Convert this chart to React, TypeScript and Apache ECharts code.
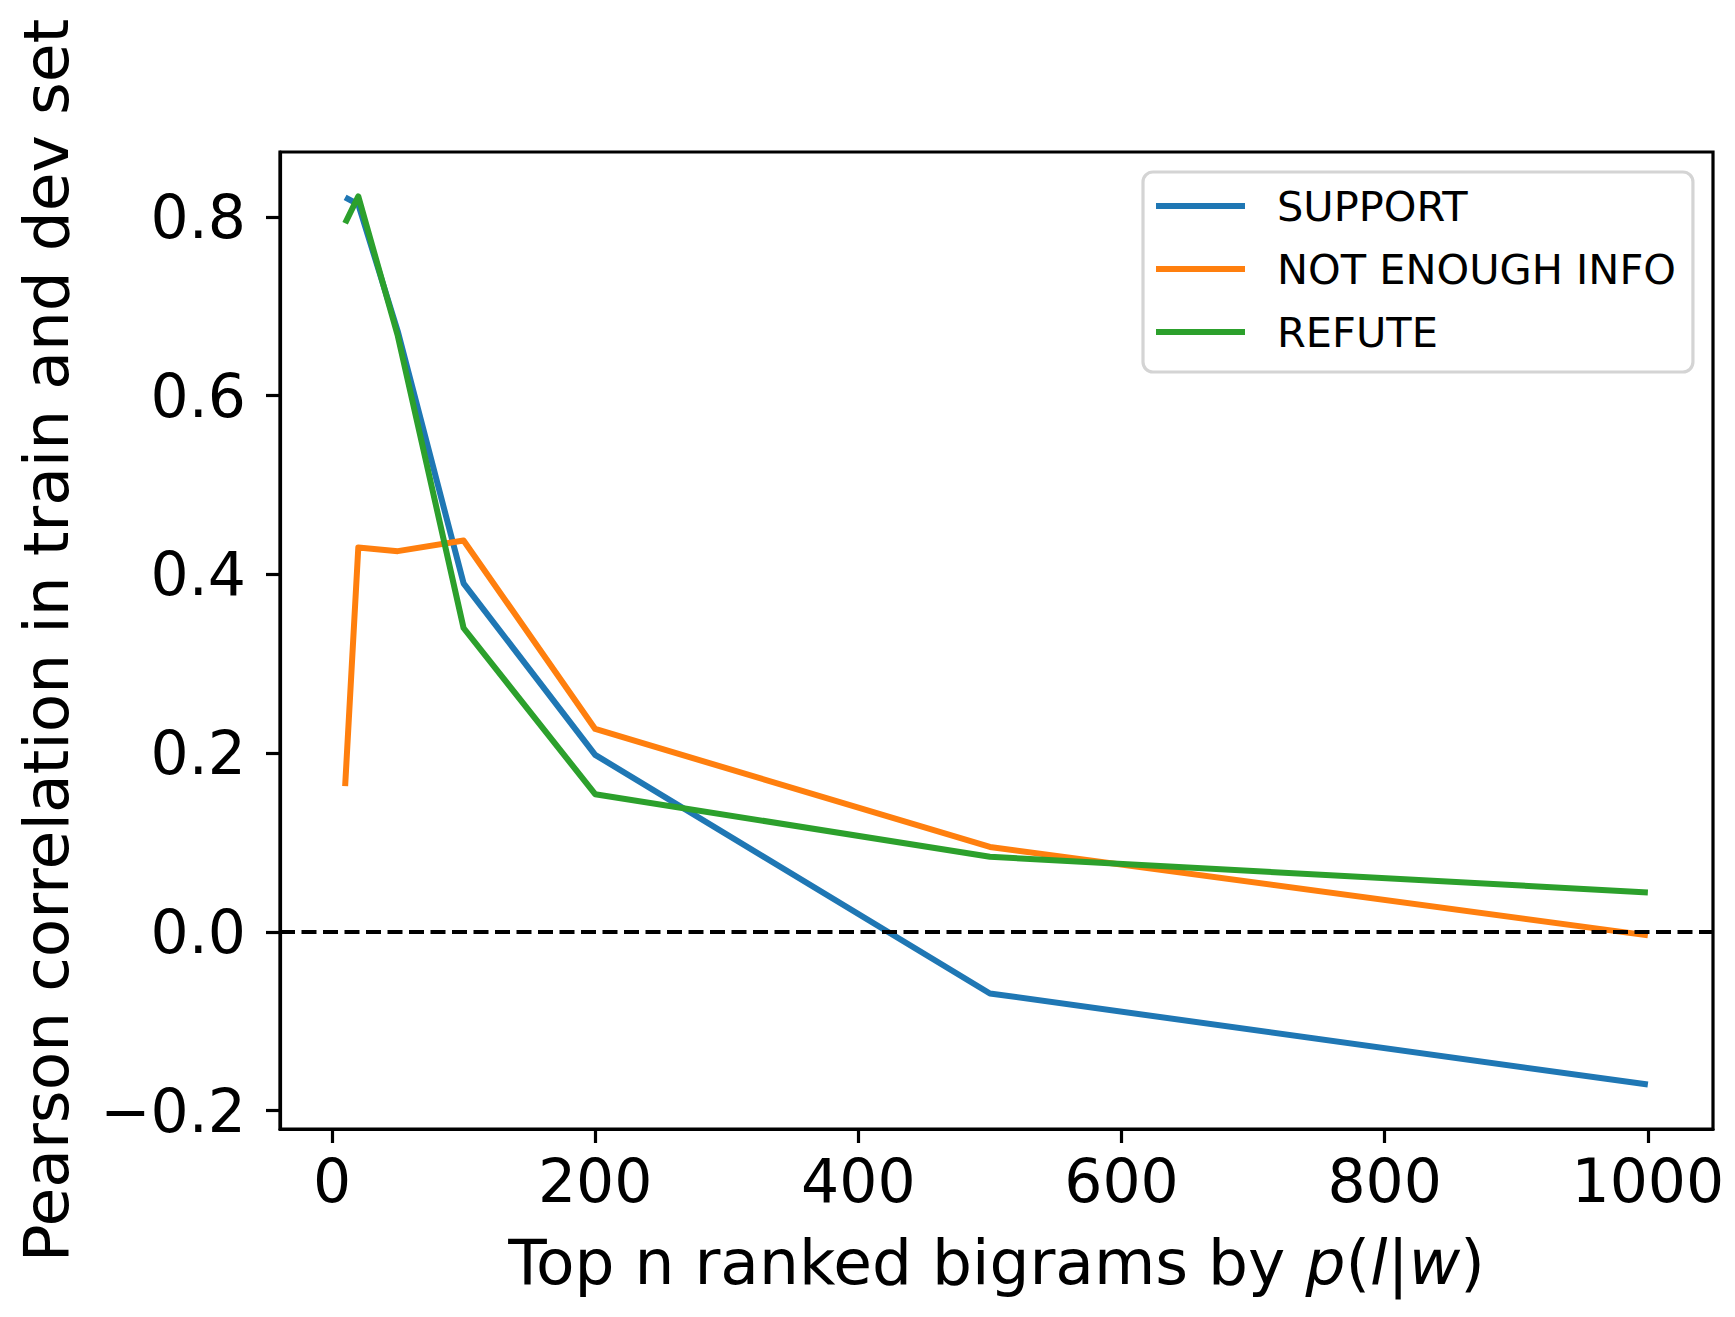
import React, { useEffect, useRef } from "react";
import * as echarts from "echarts";

const X_VALUES = [10, 20, 50, 100, 200, 500, 1000];
const SUPPORT = [0.822, 0.814, 0.672, 0.39, 0.198, -0.069, -0.171];
const NOT_ENOUGH_INFO = [0.163, 0.43, 0.426, 0.438, 0.227, 0.095, -0.004];
const REFUTE = [0.793, 0.823, 0.667, 0.34, 0.154, 0.084, 0.044];
const SERIES_NAMES = ["SUPPORT", "NOT ENOUGH INFO", "REFUTE"];
const X_TICKS = [0, 200, 400, 600, 800, 1000];
const Y_TICKS = [-0.2, 0, 0.2, 0.4, 0.6, 0.8];

const COLORS = ["#1f77b4", "#ff7f0e", "#2ca02c"];
const FONT = "DejaVu Sans";

export default function App() {
  const ref = useRef<HTMLDivElement>(null);
  useEffect(() => {
    if (!ref.current) return;
    const chart = echarts.init(ref.current, undefined, { renderer: "svg" });
    const allY = [...SUPPORT, ...NOT_ENOUGH_INFO, ...REFUTE];
    const yLo = Math.min(...allY);
    const yHi = Math.max(...allY);
    const yPad = (yHi - yLo) * 0.05;
    const xLo = Math.min(...X_VALUES);
    const xHi = Math.max(...X_VALUES);
    const xPad = (xHi - xLo) * 0.05;
    const seriesData = [SUPPORT, NOT_ENOUGH_INFO, REFUTE];
    const series: any[] = seriesData.map((vals, i) => ({
      name: SERIES_NAMES[i],
      type: "line",
      data: X_VALUES.map((x, j) => [x, vals[j]]),
      symbol: "none",
      lineStyle: { color: COLORS[i], width: 6, cap: "butt", join: "round" },
      itemStyle: { color: COLORS[i] },
      z: 2 + i,
    }));
    series.push({
      name: "zero",
      type: "line",
      data: [],
      z: 10,
      markLine: {
        silent: true,
        symbol: "none",
        label: { show: false },
        lineStyle: { color: "#000", width: 4, type: [15, 6.5] },
        data: [{ yAxis: 0 }],
        animation: false,
      },
    });
    chart.setOption({
      animation: false,
      backgroundColor: "#fff",
      grid: {
        left: 280,
        right: 22,
        top: 152,
        bottom: 188,
        show: true,
        borderColor: "#000",
        borderWidth: 3.2,
        backgroundColor: "transparent",
      },
      legend: {
        data: SERIES_NAMES,
        orient: "vertical",
        left: 1143,
        top: 172,
        padding: [9, 17, 15, 13],
        itemWidth: 89,
        itemHeight: 6,
        itemGap: 13,
        icon: "rect",
        backgroundColor: "rgba(255,255,255,0.8)",
        borderColor: "#d4d4d4",
        borderWidth: 3.2,
        borderRadius: 10,
        textStyle: {
          fontFamily: FONT,
          fontSize: 41.5,
          color: "#000",
          lineHeight: 50,
          padding: [0, 0, 0, 27],
        },
      },
      xAxis: {
        type: "value",
        min: xLo - xPad,
        max: xHi + xPad,
        splitLine: { show: false },
        axisLine: { show: true, onZero: false, lineStyle: { color: "#000", width: 3.2 } },
        axisTick: {
          show: true,
          length: 14,
          customValues: X_TICKS,
          lineStyle: { color: "#000", width: 3.2 },
        },
        axisLabel: {
          customValues: X_TICKS,
          margin: 22,
          fontFamily: FONT,
          fontSize: 60,
          color: "#000",
          formatter: (v: number) => String(Math.round(v)),
        },
        name: "Top n ranked bigrams by {i|p}({i|l}|{i|w})",
        nameLocation: "middle",
        nameGap: 102,
        nameTextStyle: {
          fontFamily: FONT,
          fontSize: 63,
          color: "#000",
          rich: {
            i: { fontFamily: FONT, fontSize: 63, fontStyle: "italic", color: "#000" },
          },
        },
      },
      yAxis: {
        type: "value",
        min: yLo - yPad,
        max: yHi + yPad,
        splitLine: { show: false },
        axisLine: { show: true, onZero: false, lineStyle: { color: "#000", width: 3.2 } },
        axisTick: {
          show: true,
          length: 14,
          customValues: Y_TICKS,
          lineStyle: { color: "#000", width: 3.2 },
        },
        axisLabel: {
          customValues: Y_TICKS,
          margin: 34,
          fontFamily: FONT,
          fontSize: 60,
          color: "#000",
          formatter: (v: number) => (v < -1e-9 ? "\u2212" : "") + Math.abs(v).toFixed(1),
        },
        name: "Pearson correlation in train and dev set",
        nameLocation: "middle",
        nameGap: 202,
        nameTextStyle: { fontFamily: FONT, fontSize: 63, color: "#000" },
      },
      series,
    });
    return () => chart.dispose();
  }, []);
  return (
    <div
      ref={ref}
      style={{ position: "fixed", left: 0, top: 0, width: 1735, height: 1317, background: "#fff" }}
    />
  );
}
